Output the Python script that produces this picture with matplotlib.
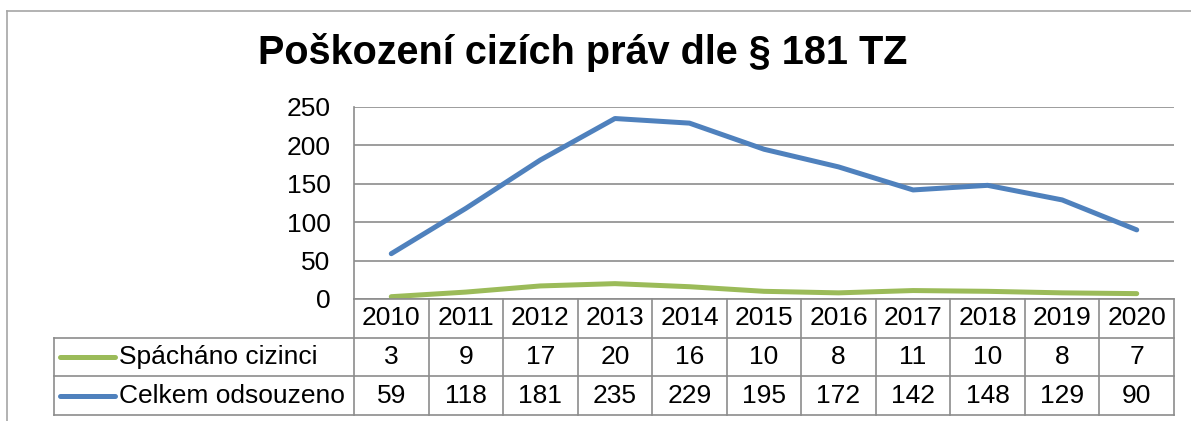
import matplotlib.pyplot as plt
from matplotlib.lines import Line2D

# data
years = ['2010', '2011', '2012', '2013', '2014', '2015', '2016', '2017', '2018', '2019', '2020']
spachano_cizinci = [3, 9, 17, 20, 16, 10, 8, 11, 10, 8, 7]
celkem_odsouzeno = [59, 118, 181, 235, 229, 195, 172, 142, 148, 129, 90]
series_names = ['Spácháno cizinci', 'Celkem odsouzeno']
y_ticks = [0, 50, 100, 150, 200, 250]

GREEN = '#9BBB59'
BLUE = '#4F81BD'
GRID = '#8C8C8C'
FS = 19

plt.rcParams['font.family'] = ['Liberation Sans', 'DejaVu Sans']

W, H = 1191, 421
fig = plt.figure(figsize=(W / 100, H / 100), dpi=100)


def fx(px):
    return px / W


def fy(py):
    return 1 - py / H


# outer chart frame (top and left edges visible)
fig.add_artist(Line2D([fx(7), fx(7)], [0, fy(11)], color='#A6A6A6', lw=1.2))
fig.add_artist(Line2D([fx(7), 1], [fy(11), fy(11)], color='#A6A6A6', lw=1.2))

fig.text(fx(583), fy(53), 'Poškození cizích práv dle § 181 TZ',
         ha='center', va='center', fontsize=28.5, fontweight='bold')

# plot area
left, right = 354, 1174
top, bottom = 107, 299
ax = fig.add_axes([fx(left), fy(bottom), fx(right - left), (bottom - top) / H])
x = list(range(len(years)))
ax.plot(x, celkem_odsouzeno, color=BLUE, lw=3.6, solid_capstyle='round', zorder=3)
ax.plot(x, spachano_cizinci, color=GREEN, lw=3.6, solid_capstyle='round', zorder=3)
ax.set_xlim(-0.5, len(years) - 0.5)
ax.set_ylim(0, 250)
ax.set_yticks(y_ticks)
ax.set_xticks([])
ax.yaxis.grid(True, color=GRID, lw=1.2)
ax.set_axisbelow(True)
for s in ['top', 'right', 'bottom']:
    ax.spines[s].set_visible(False)
ax.spines['left'].set_color(GRID)
ax.spines['left'].set_linewidth(1.2)
ax.tick_params(axis='y', length=0, pad=17, labelsize=FS)

# data table below the plot
t_top, t_bot = 299, 415
tab = fig.add_axes([fx(left), fy(t_bot), fx(right - left), (t_bot - t_top) / H])
tab.set_xlim(-0.5, len(years) - 0.5)
tab.set_ylim(0, 3)
tab.axis('off')
unit = (right - left) / len(years)
leg_left = -0.5 - (left - 54) / unit
kw = dict(color=GRID, lw=1.2, clip_on=False)
# horizontal lines
tab.plot([-0.5, len(years) - 0.5], [3, 3], **kw)
for yy in [2, 1, 0]:
    tab.plot([leg_left, len(years) - 0.5], [yy, yy], **kw)
# vertical lines
for i in range(len(years) + 1):
    tab.plot([i - 0.5, i - 0.5], [0, 3], **kw)
tab.plot([leg_left, leg_left], [0, 2], **kw)

for i, yr in enumerate(years):
    tab.text(i, 2.5, yr, ha='center', va='center', fontsize=FS)
    tab.text(i, 1.5, str(spachano_cizinci[i]), ha='center', va='center', fontsize=FS)
    tab.text(i, 0.5, str(celkem_odsouzeno[i]), ha='center', va='center', fontsize=FS)

for row, name, col in [(1.5, series_names[0], GREEN), (0.5, series_names[1], BLUE)]:
    x0 = leg_left + (60 - 54) / unit
    x1 = leg_left + (115 - 54) / unit
    tab.plot([x0, x1], [row, row], color=col, lw=3.6, solid_capstyle='round', clip_on=False)
    tab.text(leg_left + (119 - 54) / unit, row, name, ha='left', va='center', fontsize=FS)

fig.savefig('out.png', dpi=100)
